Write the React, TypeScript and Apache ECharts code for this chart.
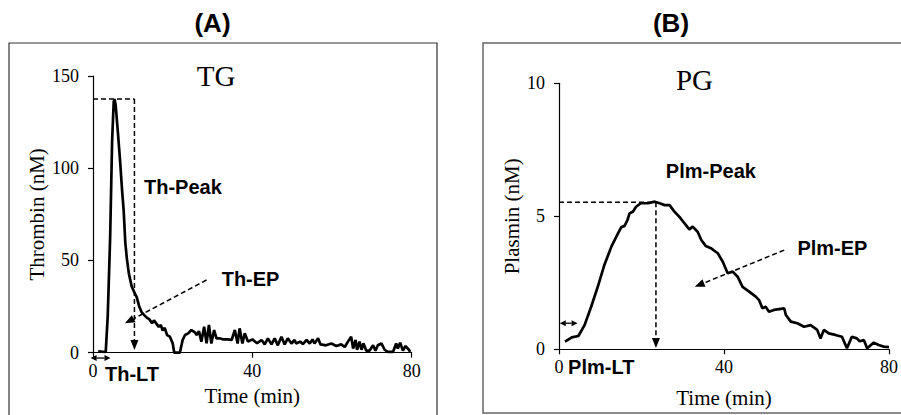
import React, { useEffect, useRef } from "react";
import * as echarts from "echarts";

// Panel A: thrombin generation (TG)
const thTime = [
  1.3, 2.2, 3.2, 3.7, 4.3, 4.8, 5.2, 5.4, 5.7, 6.3, 6.8, 7.3, 7.7, 8.1, 8.5, 9.0, 9.7, 10.3, 11.0, 11.6,
  12.2, 12.8, 13.5, 14.2, 14.8, 15.3, 16.0, 16.5, 17.0, 17.5, 18.0, 18.6, 19.3, 20.0, 20.4, 21.8, 22.5, 23.1,
  23.9, 24.7, 25.6, 26.0, 26.6, 27.2, 27.9, 28.5, 29.1, 29.7, 30.4, 31.0, 31.8, 32.7, 33.9, 34.8, 35.6, 36.3,
  36.8, 37.5, 38.1, 38.9, 40.0, 41.2, 42.3, 43.1, 43.9, 44.8, 45.6, 46.4, 47.3, 48.1, 48.9, 49.8, 50.6, 51.0,
  52.0, 52.7, 53.6, 54.4, 55.1, 55.6, 56.5, 57.1, 58.5, 59.8, 61.1, 62.3, 63.2, 64.0, 64.8, 65.3, 65.9, 66.3,
  66.9, 67.4, 67.9, 68.6, 69.4, 70.3, 70.9, 71.5, 72.4, 73.2, 74.0, 75.3, 76.1, 76.5, 77.1, 77.8, 78.4, 79.3,
  79.6,
];
const thValue = [
  0.8, 0.6, 0.5, 20, 62, 115, 136, 137.5, 134, 118, 104, 88, 77, 60, 51, 43, 36, 33, 30, 25,
  22, 20.5, 19, 18, 16, 17.5, 15.5, 14, 15, 12, 13.5, 9.5, 8.7, 5.1, 0, 0, 6.9, 9.6,
  10.5, 12.3, 11, 9.6, 11.7, 6, 14.1, 5.1, 15, 5, 12.3, 7.8, 7.8, 7.2, 7.2, 6.9, 12.3, 5,
  13.2, 5, 10.5, 6, 7.2, 5.1, 6.9, 4.5, 7.8, 4.5, 7.8, 4, 8.7, 4.5, 7.8, 5, 6.9, 5,
  6, 4.7, 6.9, 5, 7.2, 5, 7.8, 4.5, 4, 5, 3.6, 4.5, 3.1, 6, 8.7, 2.2, 6.9, 1.6,
  6, 1.6, 5, 1.1, 1.1, 4, 1.1, 4, 5, 1.6, 0.4, 0.4, 5, 2.2, 5.4, 1.1, 3.6, 1.6,
  0.4,
];

// Panel B: plasmin generation (PG)
const plmTime = [
  1.45, 3.1, 4.7, 6.2, 7.8, 9.4, 11, 12.7, 14.3, 15.1, 15.9, 16.6, 17.1, 17.9, 18.7, 19.8, 21.6, 23.2, 24.4,
  25.6, 26.8, 28, 29.2, 30.4, 31.6, 32.4, 33.6, 34.5, 35.6, 36.8, 38.5, 39.7, 40.9, 42.1, 43.3, 44.5, 46.1,
  47.7, 48.5, 49.3, 50.1, 50.9, 52.1, 54.6, 55, 56.2, 57.8, 59.4, 61, 62.6, 63.4, 64.2, 65.4, 67, 68.6, 69.8,
  71, 72.2, 72.9, 73.9, 74.7, 76.3, 77.5, 78.7, 80,
];
const plmValue = [
  0.29, 0.45, 0.5, 0.91, 1.6, 2.35, 3.17, 3.86, 4.36, 4.59, 4.64, 4.86, 5.11, 5.17, 5.36, 5.49, 5.49, 5.55, 5.49,
  5.42, 5.42, 5.17, 4.98, 4.74, 4.51, 4.61, 4.42, 4.11, 3.88, 3.8, 3.61, 3.29, 2.86, 2.92, 2.73, 2.35, 2.17,
  1.98, 1.85, 1.54, 1.6, 1.41, 1.48, 1.54, 1.29, 1.04, 0.98, 0.85, 0.91, 0.73, 0.41, 0.73, 0.6, 0.54, 0.47, 0.04,
  0.47, 0.41, 0.3, 0.35, 0.04, 0.25, 0.16, 0.1, 0.08,
];

// Annotation anchors (data units)
const thPeak = 137.5;
const thPeakMark = 10.4;
const thLag = 4.4;
const thEPFrom = [28.5, 39.4];
const thEPTo = [8.0, 15.9];
const plmPeak = 5.53;
const plmPeakTime = 23.5;
const plmLag = 4.5;
const plmEPFrom = [54.6, 3.73];
const plmEPTo = [32.9, 2.35];

const SERIF = '"Liberation Serif", "Times New Roman", serif';
const SANS = '"Liberation Sans", Arial, sans-serif';

function axisX(gridIndex: number, gap: number) {
  return {
    type: "value",
    gridIndex,
    min: 0,
    max: 80,
    interval: 40,
    axisLine: { show: true, onZero: false, lineStyle: { color: "#000", width: 1.2 } },
    axisTick: { show: true, length: 5, lineStyle: { color: "#000", width: 1.2 } },
    splitLine: { show: false },
    axisLabel: { fontFamily: SERIF, fontSize: 18, color: "#000", margin: 9 },
    name: "Time (min)",
    nameLocation: "middle",
    nameGap: gap,
    nameTextStyle: { fontFamily: SERIF, fontSize: 21, color: "#000" },
  };
}

function axisY(gridIndex: number, max: number, interval: number, name: string, gap: number) {
  return {
    type: "value",
    gridIndex,
    min: 0,
    max,
    interval,
    axisLine: { show: true, onZero: false, lineStyle: { color: "#000", width: 1.2 } },
    axisTick: { show: true, length: 5, lineStyle: { color: "#000", width: 1.2 } },
    splitLine: { show: false },
    axisLabel: { fontFamily: SERIF, fontSize: 18, color: "#000", margin: 14 },
    name,
    nameLocation: "middle",
    nameGap: gap,
    nameTextStyle: { fontFamily: SERIF, fontSize: 21, color: "#000" },
  };
}

export default function App() {
  const ref = useRef<HTMLDivElement>(null);
  useEffect(() => {
    if (!ref.current) return;
    const chart = echarts.init(ref.current, null, { renderer: "svg" });
    const thData = thTime.map((t, i) => [t, thValue[i]]);
    const plmData = plmTime.map((t, i) => [t, plmValue[i]]);
    chart.setOption({
      animation: false,
      backgroundColor: "#fff",
      grid: [
        { left: 93, top: 76, width: 318.7, height: 276.7 },
        { left: 559, top: 83.3, width: 331, height: 266 },
      ],
      xAxis: [axisX(0, 33), axisX(1, 38)],
      yAxis: [axisY(0, 150, 50, "Thrombin (nM)", 46), axisY(1, 10, 5, "Plasmin (nM)", 37)],
      series: [
        {
          type: "line",
          xAxisIndex: 0,
          yAxisIndex: 0,
          data: thData,
          showSymbol: false,
          lineStyle: { color: "#000", width: 2.7 },
          itemStyle: { color: "#000" },
        },
        {
          type: "line",
          xAxisIndex: 1,
          yAxisIndex: 1,
          data: plmData,
          showSymbol: false,
          lineStyle: { color: "#000", width: 2.7 },
          itemStyle: { color: "#000" },
        },
      ],
    });

    const pA = (t: number, v: number) => chart.convertToPixel({ xAxisIndex: 0, yAxisIndex: 0 }, [t, v]) as number[];
    const pB = (t: number, v: number) => chart.convertToPixel({ xAxisIndex: 1, yAxisIndex: 1 }, [t, v]) as number[];

    const g: any[] = [];
    const dashed = { stroke: "#000", lineWidth: 1.5, lineDash: [5, 3] };
    const line = (a: number[], b: number[], style: any) =>
      g.push({ type: "line", shape: { x1: a[0], y1: a[1], x2: b[0], y2: b[1] }, style, silent: true });
    const head = (tip: number[], from: number[], len = 10, half = 4) => {
      const dx = tip[0] - from[0];
      const dy = tip[1] - from[1];
      const d = Math.sqrt(dx * dx + dy * dy) || 1;
      const ux = dx / d;
      const uy = dy / d;
      const bx = tip[0] - ux * len;
      const by = tip[1] - uy * len;
      g.push({
        type: "polygon",
        shape: { points: [tip, [bx - uy * half, by + ux * half], [bx + uy * half, by - ux * half]] },
        style: { fill: "#000" },
        silent: true,
      });
      return [bx, by];
    };
    const arrow = (from: number[], to: number[], style: any) => {
      const base = head(to, from);
      line(from, base, style);
    };
    const dbl = (a: number[], b: number[], style: any) => {
      const ba = head(a, b, 6, 3);
      const bb = head(b, a, 6, 3);
      line(ba, bb, style);
    };
    const text = (pos: number[], s: string, size: number, weight: string, family: string, align = "left") =>
      g.push({
        type: "text",
        x: pos[0],
        y: pos[1],
        silent: true,
        style: { text: s, fill: "#000", fontSize: size, fontWeight: weight, fontFamily: family, align, verticalAlign: "middle" },
      });

    // frames
    g.push({ type: "rect", shape: { x: 9, y: 43, width: 428, height: 390 }, style: { fill: "none", stroke: "#333", lineWidth: 1.2 }, silent: true });
    g.push({ type: "rect", shape: { x: 483, y: 43, width: 430, height: 370 }, style: { fill: "none", stroke: "#666", lineWidth: 1.5 }, silent: true });

    // panel titles
    text([212.5, 23], "(A)", 26, "bold", SANS, "center");
    text([671, 23], "(B)", 26, "bold", SANS, "center");
    text([216, 76], "TG", 29, "normal", SERIF, "center");
    text([694.5, 80], "PG", 29, "normal", SERIF, "center");

    // Panel A annotations
    const aCorner = pA(thPeakMark, thPeak);
    line(pA(0, thPeak), aCorner, dashed);
    arrow(aCorner, pA(thPeakMark, 1.5), dashed);
    text(pA(12.8, 89.6), "Th-Peak", 20, "bold", SANS);
    arrow(pA(thEPFrom[0], thEPFrom[1]), pA(thEPTo[0], thEPTo[1]), dashed);
    text(pA(32.3, 39.7), "Th-EP", 20, "bold", SANS);
    dbl(pA(-0.6, -2.9), pA(thLag, -2.9), { stroke: "#000", lineWidth: 1.3 });
    text(pA(3.0, -11.5), "Th-LT", 20, "bold", SANS);

    // Panel B annotations
    const bCorner = pB(plmPeakTime, plmPeak);
    line(pB(0, plmPeak), bCorner, dashed);
    arrow(bCorner, pB(plmPeakTime, 0.05), dashed);
    text(pB(25.9, 6.7), "Plm-Peak", 20, "bold", SANS);
    arrow(pB(plmEPFrom[0], plmEPFrom[1]), pB(plmEPTo[0], plmEPTo[1]), dashed);
    text(pB(57.8, 3.81), "Plm-EP", 20, "bold", SANS);
    dbl(pB(0.2, 0.98), pB(plmLag, 0.98), { stroke: "#000", lineWidth: 1.3 });
    text(pB(2.2, -0.67), "Plm-LT", 20, "bold", SANS);

    chart.setOption({ graphic: g });
    return () => chart.dispose();
  }, []);
  return <div ref={ref} style={{ position: "fixed", left: 0, top: 0, width: 901, height: 415 }} />;
}
